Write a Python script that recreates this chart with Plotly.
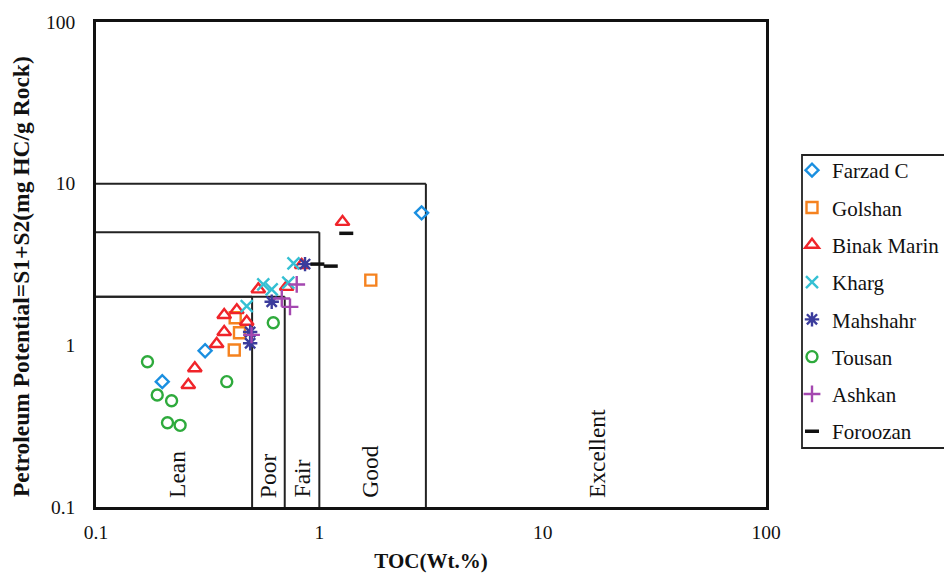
import math
import plotly.graph_objects as go

# ---------------- data ----------------
farzad_x = [0.198, 0.308, 2.87]
farzad_y = [0.596, 0.926, 6.6]

golshan_x = [0.416, 0.439, 0.42, 1.70]
golshan_y = [0.935, 1.197, 1.48, 2.53]

binak_x = [0.259, 0.277, 0.347, 0.375, 0.375, 0.427, 0.473, 0.533, 0.714, 0.834, 1.27]
binak_y = [0.568, 0.721, 1.02, 1.21, 1.54, 1.65, 1.40, 2.22, 2.30, 3.14, 5.8]

kharg_x = [0.473, 0.561, 0.612, 0.726, 0.766]
kharg_y = [1.75, 2.38, 2.22, 2.44, 3.21]

mahshahr_x = [0.49, 0.49, 0.612, 0.863]
mahshahr_y = [1.03, 1.21, 1.86, 3.18]

tousan_x = [0.170, 0.188, 0.218, 0.209, 0.238, 0.385, 0.622]
tousan_y = [0.792, 0.493, 0.454, 0.332, 0.32, 0.596, 1.38]

ashkan_x = [0.497, 0.679, 0.739, 0.792]
ashkan_y = [1.16, 1.95, 1.73, 2.38]

foroozan_x = [1.32, 0.98, 1.125]
foroozan_y = [4.93, 3.18, 3.09]

# classification boxes: (toc upper limit, potential upper limit)
box_toc = [0.5, 0.7, 1.0, 3.0]
box_pp = [2.0, 2.0, 5.0, 10.0]

zone_names = ["Lean", "Poor", "Fair", "Good", "Excellent"]
zone_x = [0.230, 0.589, 0.834, 1.687, 17.5]
zone_base_y = 0.111

x_ticks = [0.1, 1, 10, 100]
y_ticks = [0.1, 1, 10, 100]

series = [
    ("Farzad C", farzad_x, farzad_y, "diamond-open", "#1a8fe0", 10),
    ("Golshan", golshan_x, golshan_y, "square-open", "#f5821f", 11),
    ("Binak Marin", binak_x, binak_y, "triangle-up-open", "#f0242a", 12),
    ("Kharg", kharg_x, kharg_y, "x-thin-open", "#35c0d3", 12),
    ("Mahshahr", mahshahr_x, mahshahr_y, "asterisk-open", "#3b3c9c", 12),
    ("Tousan", tousan_x, tousan_y, "circle-open", "#2eaa3c", 11),
    ("Ashkan", ashkan_x, ashkan_y, "cross-thin-open", "#a447b0", 12),
    ("Foroozan", foroozan_x, foroozan_y, "line-ew-open", "#111111", 10),
]

SERIF = "Liberation Serif, Times New Roman, serif"

fig = go.Figure()

for i, (name, xs, ys, sym, col, sz) in enumerate(series):
    fig.add_trace(go.Scatter(
        x=xs, y=ys, mode="markers", name=name, legendgroup=f"g{i}",
        marker=dict(symbol=sym, size=sz, color=col,
                    line=dict(width=2.4 if sym != "line-ew-open" else 3.5, color=col)),
    ))

# box outlines
for t, p in zip(box_toc, box_pp):
    fig.add_shape(type="line", xref="x", yref="y", x0=0.1, x1=t, y0=p, y1=p,
                  line=dict(color="#222222", width=2), layer="below")
    fig.add_shape(type="line", xref="x", yref="y", x0=t, x1=t, y0=0.1, y1=p,
                  line=dict(color="#222222", width=2), layer="below")

for name, zx in zip(zone_names, zone_x):
    fig.add_annotation(x=math.log10(zx), y=math.log10(zone_base_y), xref="x", yref="y",
                       text=name, showarrow=False, textangle=-90,
                       yanchor="bottom", xanchor="center",
                       font=dict(family=SERIF, size=23.5, color="#111111"))

# y axis title (placed as annotation for exact position)
fig.add_annotation(x=-0.112, y=0.476, xref="paper", yref="paper",
                   text="<b>Petroleum Potential=S1+S2(mg HC/g Rock)</b>",
                   showarrow=False, textangle=-90, xanchor="center", yanchor="middle",
                   font=dict(family=SERIF, size=23.5, color="#111111"))

# legend frame (extends past the right edge as in the reference)
fig.add_shape(type="rect", xref="paper", yref="paper",
              x0=(802 - 96) / 670, x1=(952 - 96) / 670,
              y0=(507 - 448) / 485, y1=(507 - 155) / 485,
              line=dict(color="#222222", width=1.8), fillcolor="rgba(0,0,0,0)")

fig.update_xaxes(type="log", range=[-1, 2], tickvals=x_ticks,
                 ticktext=[str(v) for v in x_ticks], showgrid=False, zeroline=False,
                 showline=True, mirror=True, linecolor="#111111", linewidth=2.5,
                 ticks="", ticklen=0, ticklabelstandoff=6,
                 tickfont=dict(family=SERIF, size=19.5, color="#111111"),
                 title=dict(text="<b>TOC(Wt.%)</b>", standoff=12,
                            font=dict(family=SERIF, size=21, color="#111111")))
fig.update_yaxes(type="log", range=[-1, 2], tickvals=y_ticks,
                 ticktext=[str(v) for v in y_ticks], showgrid=False, zeroline=False,
                 showline=True, mirror=True, linecolor="#111111", linewidth=2.5,
                 ticks="", ticklen=0, ticklabelstandoff=14,
                 tickfont=dict(family=SERIF, size=19.5, color="#111111"))

fig.update_layout(
    width=944, height=575,
    font=dict(family=SERIF, color="#111111"),
    margin=dict(l=96, r=178, t=22, b=68, autoexpand=False),
    paper_bgcolor="white", plot_bgcolor="white",
    showlegend=True,
    legend=dict(x=(792 - 96) / 670, y=(507 - 150) / 485, xanchor="left", yanchor="top",
                borderwidth=0, bgcolor="rgba(0,0,0,0)",
                tracegroupgap=7, itemwidth=30,
                font=dict(family=SERIF, size=21, color="#111111")),
)

fig.write_html("out.html")
